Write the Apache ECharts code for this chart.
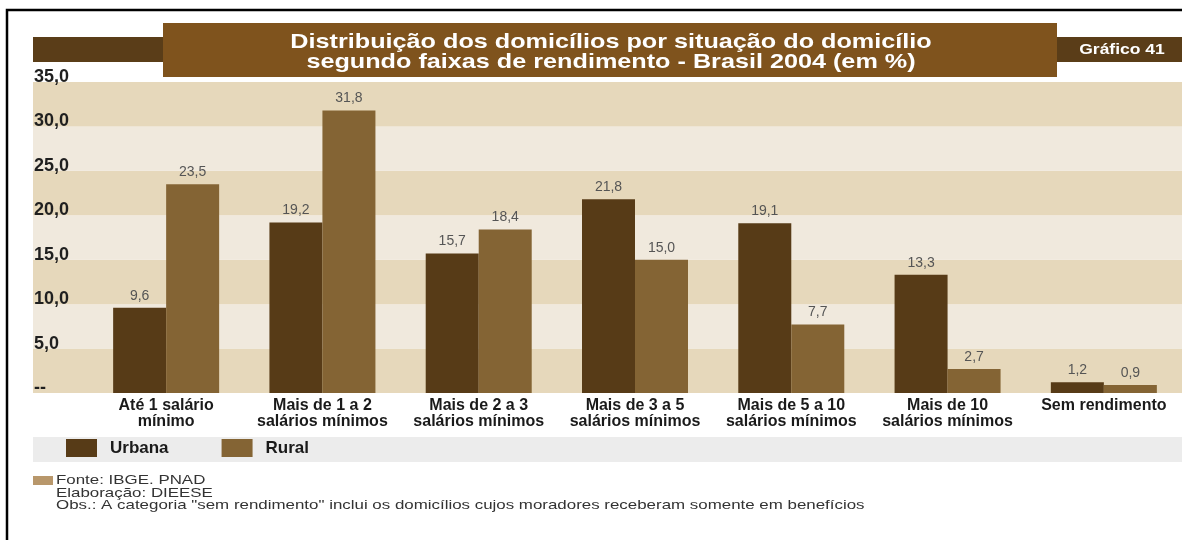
<!DOCTYPE html>
<html>
<head>
<meta charset="utf-8">
<title>Distribuição dos domicílios</title>
<script src="https://cdn.jsdelivr.net/npm/echarts@6/dist/echarts.min.js"></script>
<style>
  html, body { margin: 0; padding: 0; background: #fff; }
  #chart { width: 1182px; height: 540px; }
</style>
</head>
<body>
<div id="chart"></div>
<script>
// data
const categories = [
  'Até 1 salário\nmínimo',
  'Mais de 1 a 2\nsalários mínimos',
  'Mais de 2 a 3\nsalários mínimos',
  'Mais de 3 a 5\nsalários mínimos',
  'Mais de 5 a 10\nsalários mínimos',
  'Mais de 10\nsalários mínimos',
  'Sem rendimento'
]
const urbana = [9.6, 19.2, 15.7, 21.8, 19.1, 13.3, 1.2]
const rural = [23.5, 31.8, 18.4, 15.0, 7.7, 2.7, 0.9]
const yMin = 0
const yMax = 35
const yStep = 5

const titleLines = [
  'Distribuição dos domicílios por situação do domicílio',
  'segundo faixas de rendimento - Brasil 2004 (em %)'
]
const footLines = [
  'Fonte: IBGE. PNAD',
  'Elaboração: DIEESE',
  'Obs.: A categoria "sem rendimento" inclui os domicílios cujos moradores receberam somente em benefícios'
]

const FONT = "'Liberation Sans', Arial, sans-serif"
const fmt = (v) => Number(v).toFixed(1).replace('.', ',')

const chart = echarts.init(document.getElementById('chart'))

const plotTop = 82
const plotH = 311

const option = {
  animation: false,
  textStyle: { fontFamily: FONT },
  color: ['#573b17', '#846434'],
  legend: {
    left: 66,
    top: 439,
    padding: 0,
    itemWidth: 31,
    itemHeight: 18,
    itemGap: 53,
    icon: 'rect',
    data: ['Urbana', 'Rural'],
    textStyle: { color: '#1a1a1a', fontSize: 17, fontWeight: 'bold', padding: [0, 0, 0, 8], fontFamily: FONT }
  },
  grid: [
    // background bands + y labels
    { left: 33, right: 0, top: plotTop, height: plotH },
    // bars
    { left: 88, width: 1101, top: plotTop, height: plotH }
  ],
  xAxis: [
    { gridIndex: 0, type: 'value', show: false },
    {
      gridIndex: 1,
      type: 'category',
      data: categories,
      axisLine: { show: false },
      axisTick: { show: false },
      axisLabel: {
        margin: 5,
        color: '#1a1a1a',
        fontSize: 16,
        fontWeight: 'bold',
        lineHeight: 16,
        interval: 0,
        fontFamily: FONT
      }
    }
  ],
  yAxis: [
    {
      gridIndex: 0,
      type: 'value',
      min: yMin,
      max: yMax,
      interval: yStep,
      axisLine: { show: false },
      axisTick: { show: false },
      splitLine: { show: false },
      splitArea: { show: true, areaStyle: { color: ['#e6d8bb', '#f0e9dd'] } },
      axisLabel: {
        inside: true,
        margin: 1,
        color: '#1f1f1f',
        fontSize: 18,
        fontWeight: 'bold',
        verticalAlign: 'bottom',
        lineHeight: 10,
        fontFamily: FONT,
        formatter: (v) => (v === 0 ? '--' : fmt(v))
      }
    },
    { gridIndex: 1, type: 'value', min: yMin, max: yMax, interval: yStep, show: false }
  ],
  series: [
    {
      name: 'Urbana',
      type: 'bar',
      xAxisIndex: 1,
      yAxisIndex: 1,
      data: urbana,
      barWidth: 53,
      barGap: '0%',
      label: { show: true, position: 'top', distance: 5, color: '#555', fontSize: 14, formatter: (p) => fmt(p.value) }
    },
    {
      name: 'Rural',
      type: 'bar',
      xAxisIndex: 1,
      yAxisIndex: 1,
      data: rural,
      barWidth: 53,
      barGap: '0%',
      label: { show: true, position: 'top', distance: 5, color: '#555', fontSize: 14, formatter: (p) => fmt(p.value) }
    }
  ],
  graphic: [
    // frame
    { type: 'polyline', shape: { points: [[7, 540], [7, 10], [1182, 10]] }, style: { stroke: '#000', lineWidth: 2.5, fill: null }, z: 0 },
    // title band pieces
    { type: 'rect', shape: { x: 33, y: 37, width: 130, height: 25 }, style: { fill: '#5a3d18' }, z: 0 },
    { type: 'rect', shape: { x: 1057, y: 37, width: 125, height: 25 }, style: { fill: '#5a3d18' }, z: 0 },
    { type: 'rect', shape: { x: 163, y: 23, width: 894, height: 54 }, style: { fill: '#7f531d' }, z: 0 },
    {
      type: 'text', x: 611, y: 32, scaleX: 1.2, z: 1,
      style: { text: titleLines.join('\n'), fill: '#fff', font: 'bold 21px ' + FONT, lineHeight: 20, align: 'center' }
    },
    {
      type: 'text', x: 1122, y: 43, scaleX: 1.25, z: 1,
      style: { text: 'Gráfico 41', fill: '#fff', font: 'bold 14px ' + FONT, align: 'center' }
    },
    // legend band
    { type: 'rect', shape: { x: 33, y: 437, width: 1149, height: 25 }, style: { fill: '#ececec' }, z: 0 },
    // footer
    { type: 'rect', shape: { x: 33, y: 476, width: 20, height: 9 }, style: { fill: '#b8976b' }, z: 0 },
    ...footLines.map((t, i) => ({
      type: 'text',
      x: 56,
      y: 474 + i * 12.5,
      scaleX: 1.3,
      style: { text: t, fill: '#333', font: '13px ' + FONT }
    }))
  ]
}

chart.setOption(option)
</script>
</body>
</html>
